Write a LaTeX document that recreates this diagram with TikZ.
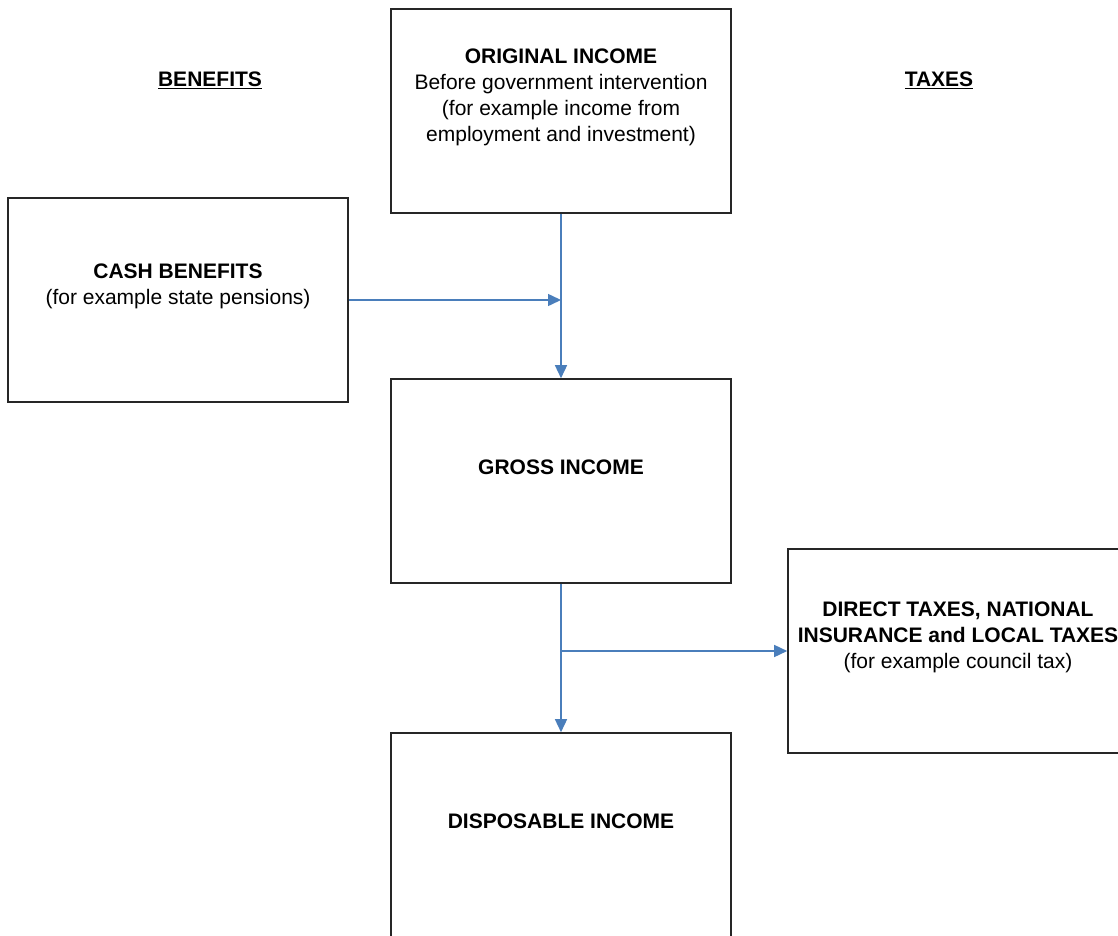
\documentclass[tikz,border=0pt]{standalone}
\usepackage{fontspec}
\setmainfont{Liberation Sans}
\usetikzlibrary{arrows.meta,positioning}
\definecolor{flowblue}{HTML}{4A7EBB}
\definecolor{boxline}{HTML}{262626}
\tikzset{
  box/.style={draw=boxline, line width=1.6pt, rectangle, minimum width=340pt, minimum height=204pt},
  txt/.style={align=center, font=\fontsize{21}{26}\selectfont, yshift=14pt},
  flow/.style={draw=flowblue, line width=1.5pt, -{Triangle[length=13pt,width=12pt]}},
}
\begin{document}
\begin{tikzpicture}[x=1pt, y=-1pt, node distance=370pt]
        \useasboundingbox (0,0) rectangle (1118,936);
        \clip (0,0) rectangle (1118,936);

        \node (orig) [box] at (561,111) {};
        \node (gross) [box, below of=orig] {};
        \node (disp) [box, below of=gross, node distance=354pt] {};
        \node (cash) [box] at (178,300) {};
        \node (tax) [box] at (958,651) {};

        \node (origtxt) [txt] at (orig) {\textbf{ORIGINAL INCOME}\\Before government intervention\\(for example income from\\employment and investment)};
        \node (grosstxt) [txt] at (gross) {\textbf{GROSS INCOME}};
        \node (disptxt) [txt] at (disp) {\textbf{DISPOSABLE INCOME}};
        \node (cashtxt) [txt] at (cash) {\textbf{CASH BENEFITS}\\(for example state pensions)};
        \node (taxtxt) [txt] at (tax) {\textbf{DIRECT TAXES, NATIONAL}\\\textbf{INSURANCE and LOCAL TAXES}\\(for example council tax)};

        \node (benefits) [font=\fontsize{21}{26}\selectfont] at (210,80) {\underline{\textbf{BENEFITS}}};
        \node (taxes) [font=\fontsize{21}{26}\selectfont] at (939,80) {\underline{\textbf{TAXES}}};

        \draw[flow] (orig) -- (gross);
        \draw[flow] (cash.east) -- (cash.east -| orig.south);
        \draw[flow] (gross) -- (disp);
        \draw[flow] (gross.south |- tax.west) -- (tax.west);
    \end{tikzpicture}
\end{document}
